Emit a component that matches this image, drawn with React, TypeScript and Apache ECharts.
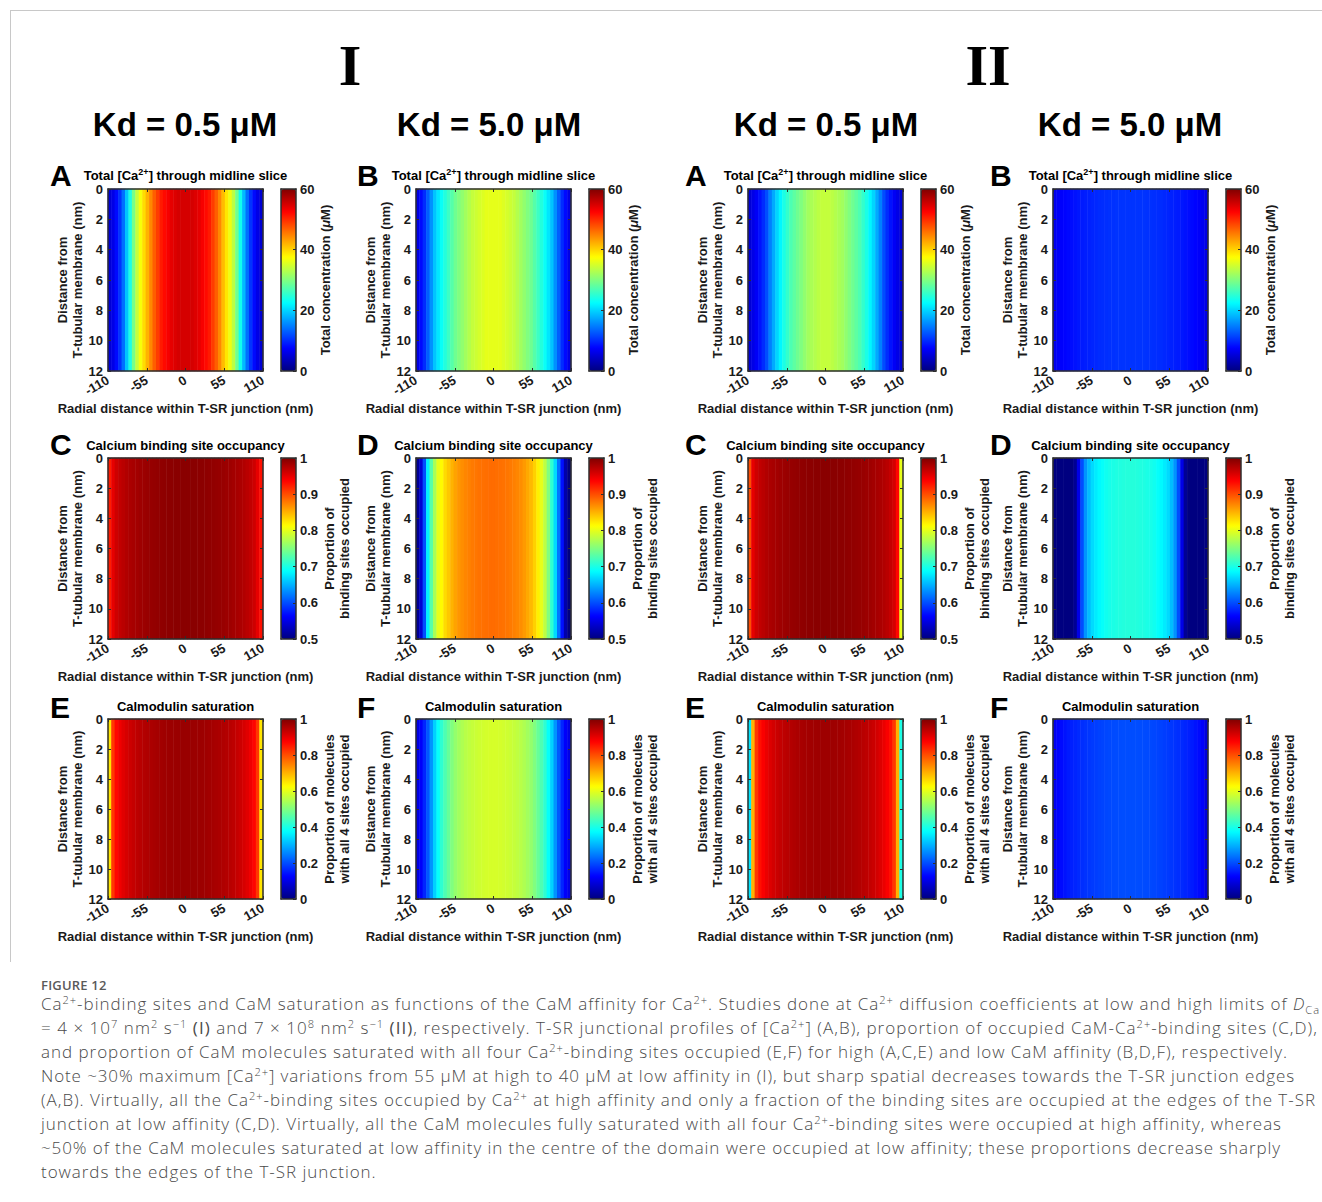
import React, { useEffect, useRef } from "react";
import * as echarts from "echarts";

// ---------- DATA ----------
const radialNm = [-110, -105, -100, -95, -90, -85, -80, -75, -70, -65, -60, -55, -50, -45, -40, -35, -30, -25, -20, -15, -10, -5, 0, 5, 10, 15, 20, 25, 30, 35, 40, 45, 50, 55, 60, 65, 70, 75, 80, 85, 90, 95, 100, 105, 110];
const depthSlice = ["0-12"];

// (I) total [Ca2+] (uM)
const caI_kd05 = [5, 6, 8, 10.5, 14, 19, 24, 29.5, 34, 37, 39.5, 42, 44.5, 47, 49, 51, 52, 53, 54, 54.5, 55, 55, 55, 55, 55, 54.5, 54, 53, 52, 51, 49, 47, 44.5, 41.5, 39, 36.5, 33.5, 29, 23.5, 18.5, 14, 10.5, 8, 6, 5];
const caI_kd50 = [6, 8, 10, 13, 16, 19, 21, 23, 24.5, 26, 27.5, 29, 30, 31, 32, 33, 34, 34.5, 35, 35.5, 36, 36, 36, 36, 36, 35.5, 35, 34.5, 34, 33, 32, 31, 30, 29, 27.5, 26, 24.5, 23, 21, 19, 16, 13, 10, 8, 6];
// (II) total [Ca2+] (uM)
const caII_kd05 = [5, 6, 7, 8.5, 10, 12, 15, 17.5, 20, 22, 24, 25.5, 27, 28, 29, 30, 31, 32, 32.5, 33, 33.5, 34, 34, 34, 33.5, 33, 32.5, 32, 31, 30, 29, 28, 27, 25.5, 24, 22, 20, 17.5, 15, 12, 10, 8.5, 7, 6, 5];
const caII_kd50 = [6.5, 7, 7.3, 7.6, 7.9, 8.2, 8.5, 8.8, 9, 9.2, 9.4, 9.6, 9.8, 10, 10.1, 10.2, 10.3, 10.4, 10.5, 10.5, 10.5, 10.5, 10.5, 10.5, 10.5, 10.5, 10.5, 10.4, 10.3, 10.2, 10.1, 10, 9.8, 9.6, 9.4, 9.2, 9, 8.8, 8.5, 8.2, 7.9, 7.6, 7.2, 6.7, 6];
// binding site occupancy
const occI_kd05 = [0.925, 0.95, 0.962, 0.968, 0.972, 0.976, 0.979, 0.981, 0.983, 0.985, 0.986, 0.988, 0.989, 0.99, 0.991, 0.992, 0.993, 0.994, 0.994, 0.995, 0.995, 0.995, 0.995, 0.995, 0.995, 0.995, 0.994, 0.994, 0.993, 0.992, 0.991, 0.99, 0.989, 0.988, 0.986, 0.985, 0.983, 0.981, 0.979, 0.976, 0.972, 0.968, 0.962, 0.95, 0.93];
const occI_kd50 = [0.51, 0.54, 0.6, 0.68, 0.73, 0.77, 0.8, 0.815, 0.83, 0.84, 0.85, 0.858, 0.864, 0.868, 0.872, 0.875, 0.878, 0.88, 0.882, 0.883, 0.884, 0.885, 0.885, 0.884, 0.883, 0.882, 0.88, 0.878, 0.875, 0.872, 0.868, 0.862, 0.855, 0.847, 0.835, 0.82, 0.8, 0.78, 0.75, 0.71, 0.67, 0.62, 0.57, 0.52, 0.5];
const occII_kd05 = [0.9, 0.95, 0.962, 0.968, 0.972, 0.976, 0.979, 0.981, 0.983, 0.985, 0.986, 0.988, 0.989, 0.99, 0.991, 0.992, 0.993, 0.994, 0.994, 0.995, 0.995, 0.995, 0.995, 0.995, 0.995, 0.995, 0.994, 0.994, 0.993, 0.992, 0.991, 0.99, 0.989, 0.988, 0.986, 0.985, 0.983, 0.981, 0.979, 0.976, 0.972, 0.966, 0.958, 0.935, 0.8];
const occII_kd50 = [0.5, 0.5, 0.5, 0.5, 0.5, 0.5, 0.51, 0.55, 0.6, 0.635, 0.655, 0.67, 0.678, 0.685, 0.69, 0.695, 0.698, 0.7, 0.702, 0.703, 0.704, 0.705, 0.705, 0.705, 0.704, 0.703, 0.702, 0.7, 0.698, 0.695, 0.69, 0.685, 0.678, 0.67, 0.655, 0.635, 0.6, 0.55, 0.51, 0.5, 0.5, 0.5, 0.5, 0.5, 0.5];
// calmodulin saturation
const satI_kd05 = [0.65, 0.82, 0.87, 0.89, 0.905, 0.915, 0.925, 0.932, 0.94, 0.945, 0.95, 0.954, 0.958, 0.961, 0.964, 0.967, 0.969, 0.971, 0.972, 0.973, 0.974, 0.975, 0.975, 0.975, 0.974, 0.973, 0.972, 0.971, 0.969, 0.967, 0.964, 0.961, 0.958, 0.954, 0.95, 0.945, 0.94, 0.932, 0.925, 0.915, 0.905, 0.89, 0.87, 0.82, 0.65];
const satI_kd50 = [0.1, 0.12, 0.16, 0.21, 0.27, 0.33, 0.38, 0.42, 0.45, 0.475, 0.5, 0.52, 0.533, 0.545, 0.555, 0.562, 0.568, 0.573, 0.577, 0.58, 0.583, 0.585, 0.585, 0.585, 0.583, 0.58, 0.577, 0.573, 0.568, 0.562, 0.555, 0.545, 0.533, 0.52, 0.5, 0.475, 0.45, 0.42, 0.38, 0.33, 0.27, 0.21, 0.16, 0.12, 0.1];
const satII_kd05 = [0.35, 0.7, 0.82, 0.86, 0.88, 0.895, 0.908, 0.918, 0.927, 0.934, 0.94, 0.945, 0.95, 0.954, 0.958, 0.961, 0.964, 0.966, 0.968, 0.969, 0.97, 0.97, 0.97, 0.97, 0.97, 0.969, 0.968, 0.966, 0.964, 0.961, 0.958, 0.954, 0.95, 0.945, 0.94, 0.934, 0.927, 0.918, 0.908, 0.895, 0.88, 0.86, 0.82, 0.7, 0.4];
const satII_kd50 = [0.11, 0.125, 0.135, 0.143, 0.15, 0.155, 0.16, 0.165, 0.17, 0.174, 0.178, 0.182, 0.185, 0.188, 0.19, 0.193, 0.195, 0.197, 0.198, 0.199, 0.2, 0.2, 0.2, 0.2, 0.2, 0.199, 0.198, 0.197, 0.195, 0.193, 0.19, 0.188, 0.185, 0.182, 0.178, 0.174, 0.17, 0.165, 0.16, 0.155, 0.15, 0.143, 0.135, 0.12, 0.09];

const groupLabels = ["I", "II"];
const kdLabels = ["Kd = 0.5 μM", "Kd = 5.0 μM", "Kd = 0.5 μM", "Kd = 5.0 μM"];
const panelLetters = [["A", "B", "A", "B"], ["C", "D", "C", "D"], ["E", "F", "E", "F"]];
const xTickStep = 55;
const yTickStep = 2;

const rowKinds = [
  { title: "Total [Ca{s|2+}] through midline slice", min: 0, max: 60, interval: 20, barName: "{b|Total concentration (}{i|μ}{b|M)}", barGap: 18 },
  { title: "Calcium binding site occupancy", min: 0.5, max: 1, interval: 0.1, barName: "Proportion of\nbinding sites occupied", barGap: 20 },
  { title: "Calmodulin saturation", min: 0, max: 1, interval: 0.2, barName: "Proportion of molecules\nwith all 4 sites occupied", barGap: 20 },
];
const profiles = [
  [caI_kd05, caI_kd50, caII_kd05, caII_kd50],
  [occI_kd05, occI_kd50, occII_kd05, occII_kd50],
  [satI_kd05, satI_kd50, satII_kd05, satII_kd50],
];

// ---------- STYLE / LAYOUT ----------
const JET = ["#000080", "#0000ff", "#0080ff", "#00ffff", "#80ff80", "#ffff00", "#ff8000", "#ff0000", "#800000"];
const FONT = '"Liberation Sans", Arial, Helvetica, sans-serif';
const AX = "#2e2e2e";
const colLeft = [108, 416, 748, 1053];
const rowTop = [189, 458, 719];
const rowH = [182, 181, 180];
const plotW = 155;
const barOffset = 18;
const barW = 15;
const letterX = [50, 357, 685, 990];
const letterY = [175, 444, 707];
const titleY = [175, 445, 706];
const titleLH = [16, 12, 12];
const kdX = [185, 489, 826, 1130];
const groupX = [350, 988];

function buildOption() {
  const grid: any[] = [], xAxis: any[] = [], yAxis: any[] = [], series: any[] = [], visualMap: any[] = [], graphic: any[] = [];
  const lineStyle = { color: AX, width: 1.5 };
  const tickStyle = { color: AX, width: 1 };
  const label = { fontFamily: FONT, fontWeight: "bold" as const, fontSize: 13, color: "#1a1a1a" };
  const txt = (text: string, x: number, y: number, font: string, align = "center", extra: any = {}) => ({
    type: "text", x, y, silent: true,
    style: { text, font, fill: "#000", textAlign: align, textVerticalAlign: "middle", align, verticalAlign: "middle", ...extra },
  });

  // frame
  graphic.push({ type: "line", silent: true, shape: { x1: 10, y1: 10.5, x2: 1322, y2: 10.5 }, style: { stroke: "#c8c8c8", lineWidth: 1 } });
  graphic.push({ type: "line", silent: true, shape: { x1: 10.5, y1: 10, x2: 10.5, y2: 962 }, style: { stroke: "#c8c8c8", lineWidth: 1 } });

  groupLabels.forEach((g, i) => graphic.push(txt(g, groupX[i], 65, 'bold 58px "Liberation Serif", "Times New Roman", serif')));
  kdLabels.forEach((k, i) => graphic.push(txt(k, kdX[i], 124, `bold 33px ${FONT}`)));

  for (let r = 0; r < 3; r++) {
    const kind = rowKinds[r];
    for (let c = 0; c < 4; c++) {
      const left = colLeft[c], top = rowTop[r], h = rowH[r];
      const barLeft = left + plotW + barOffset;
      const gi = grid.length;
      grid.push({ left, top, width: plotW, height: h });
      grid.push({ left: barLeft, top, width: barW, height: h });

      const xc = xAxis.length;
      xAxis.push({ gridIndex: gi, type: "category", position: "bottom", data: radialNm.map(String), show: false });
      xAxis.push({
        gridIndex: gi, type: "value", position: "bottom", min: -110, max: 110, interval: xTickStep, z: 10,
        axisLine: { show: true, onZero: false, lineStyle }, axisTick: { show: true, inside: true, length: 3, lineStyle: tickStyle },
        axisLabel: { ...label, rotate: 30, margin: 8, showMinLabel: true, showMaxLabel: true }, splitLine: { show: false },
        name: "Radial distance within T-SR junction (nm)", nameLocation: "middle", nameGap: 31, nameTextStyle: { ...label },
      });
      xAxis.push({
        gridIndex: gi, type: "value", position: "top", min: -110, max: 110, interval: xTickStep, z: 10,
        axisLine: { show: true, onZero: false, lineStyle }, axisTick: { show: true, inside: true, length: 3, lineStyle: tickStyle },
        axisLabel: { show: false }, splitLine: { show: false },
      });
      xAxis.push({ gridIndex: gi + 1, type: "value", position: "bottom", min: 0, max: 1, z: 10, axisLine: { show: true, onZero: false, lineStyle }, axisTick: { show: false }, axisLabel: { show: false }, splitLine: { show: false } });
      xAxis.push({ gridIndex: gi + 1, type: "value", position: "top", min: 0, max: 1, z: 10, axisLine: { show: true, onZero: false, lineStyle }, axisTick: { show: false }, axisLabel: { show: false }, splitLine: { show: false } });

      const yc = yAxis.length;
      yAxis.push({ gridIndex: gi, type: "category", position: "left", data: depthSlice, show: false });
      yAxis.push({
        gridIndex: gi, type: "value", position: "left", min: 0, max: 12, interval: yTickStep, inverse: true, z: 10,
        axisLine: { show: true, onZero: false, lineStyle }, axisTick: { show: true, inside: true, length: 3, lineStyle: tickStyle },
        axisLabel: { ...label, margin: 5, lineHeight: 12 }, splitLine: { show: false },
        name: "Distance from\nT-tubular membrane (nm)", nameLocation: "middle", nameRotate: 90, nameGap: 23,
        nameTextStyle: { ...label, lineHeight: 15 },
      });
      yAxis.push({
        gridIndex: gi, type: "value", position: "right", min: 0, max: 12, interval: yTickStep, inverse: true, z: 10,
        axisLine: { show: true, onZero: false, lineStyle }, axisTick: { show: true, inside: true, length: 3, lineStyle: tickStyle },
        axisLabel: { show: false }, splitLine: { show: false },
      });
      yAxis.push({
        gridIndex: gi + 1, type: "value", position: "right", min: kind.min, max: kind.max, interval: kind.interval, z: 10,
        axisLine: { show: true, onZero: false, lineStyle }, axisTick: { show: true, inside: true, length: 3, lineStyle: tickStyle },
        axisLabel: { ...label, margin: 4, lineHeight: 12 }, splitLine: { show: false },
        name: kind.barName, nameLocation: "middle", nameRotate: 90, nameGap: kind.barGap,
        nameTextStyle: {
          ...label, lineHeight: 15,
          rich: {
            b: { fontFamily: FONT, fontWeight: "bold", fontSize: 13, color: "#1a1a1a" },
            i: { fontFamily: FONT, fontWeight: "bold", fontStyle: "italic", fontSize: 13, color: "#1a1a1a" },
          },
        },
      });
      yAxis.push({ gridIndex: gi + 1, type: "value", position: "left", min: kind.min, max: kind.max, z: 10, axisLine: { show: true, onZero: false, lineStyle }, axisTick: { show: false }, axisLabel: { show: false }, splitLine: { show: false } });

      series.push({
        type: "heatmap", xAxisIndex: xc, yAxisIndex: yc, silent: true, progressive: 0,
        emphasis: { disabled: true },
        data: profiles[r][c].map((v, j) => [j, 0, v]),
      });
      visualMap.push({
        type: "continuous", seriesIndex: series.length - 1, min: kind.min, max: kind.max,
        inRange: { color: JET }, left: barLeft, top, itemWidth: barW, itemHeight: h, padding: 0,
        calculable: false, hoverLink: false, show: true, orient: "vertical", borderWidth: 0,
      });

      graphic.push(txt(panelLetters[r][c], letterX[c], letterY[r], `bold 30px ${FONT}`, "left"));
      graphic.push(txt(kind.title, left + plotW / 2, titleY[r], `bold 13px ${FONT}`, "center", {
        lineHeight: titleLH[r],
        rich: { s: { fontFamily: FONT, fontWeight: "bold", fontSize: 9, verticalAlign: "top", lineHeight: 9 } },
      }));
    }
  }
  return { animation: false, grid, xAxis, yAxis, series, visualMap, graphic };
}

const Sup = ({ children }: any) => <span style={{ fontSize: "0.65em", position: "relative", top: "-0.55em", lineHeight: 0 }}>{children}</span>;
const Sub = ({ children }: any) => <span style={{ fontSize: "0.65em", position: "relative", top: "0.35em", lineHeight: 0 }}>{children}</span>;

const captionTargets = [1279, 1277, 1247, 1254, 1275, 1241, 1240];

export default function App() {
  const ref = useRef<HTMLDivElement>(null);
  const capRef = useRef<HTMLDivElement>(null);
  useEffect(() => {
    document.body.style.margin = "0";
    const chart = echarts.init(ref.current!, undefined, { renderer: "svg" });
    chart.setOption(buildOption() as any);
    if (capRef.current) {
      const spans = Array.from(capRef.current.querySelectorAll("span.capline")) as HTMLSpanElement[];
      let sum = 0, cnt = 0;
      spans.forEach((s, i) => {
        if (i < captionTargets.length) {
          const w = s.getBoundingClientRect().width;
          const n = (s.textContent || "").length;
          const ls = (captionTargets[i] - w) / n;
          s.style.letterSpacing = ls + "px";
          sum += ls; cnt++;
        }
      });
      if (spans.length > captionTargets.length && cnt) spans[spans.length - 1].style.letterSpacing = sum / cnt + "px";
    }
    return () => chart.dispose();
  }, []);

  const line = (content: any, key: number) => (
    <div key={key} style={{ height: 24, lineHeight: "24px", whiteSpace: "nowrap" }}>
      <span className="capline" style={{ display: "inline-block" }}>{content}</span>
    </div>
  );

  return (
    <div style={{ position: "relative", width: 1322, height: 1202, background: "#fff", overflow: "hidden" }}>
      <div ref={ref} style={{ position: "absolute", left: 0, top: 0, width: 1322, height: 968 }} />
      <div ref={capRef} style={{ position: "absolute", left: 41, top: 977, fontFamily: '"Open Sans", "Noto Sans", sans-serif', color: "#4a4a4a" }}>
        <div style={{ fontSize: 13, lineHeight: "16px", height: 15, fontWeight: 600, color: "#5a5a5a", letterSpacing: "0.2px" }}>FIGURE 12</div>
        <div style={{ fontSize: 17, fontWeight: 300 }}>
          {line(<>Ca<Sup>2+</Sup>-binding sites and CaM saturation as functions of the CaM affinity for Ca<Sup>2+</Sup>. Studies done at Ca<Sup>2+</Sup> diffusion coefficients at low and high limits of <i>D</i><Sub>Ca</Sub></>, 0)}
          {line(<>= 4 × 10<Sup>7</Sup> nm<Sup>2</Sup> s<Sup>−1</Sup> <b>(I)</b> and 7 × 10<Sup>8</Sup> nm<Sup>2</Sup> s<Sup>−1</Sup> <b>(II)</b>, respectively. T-SR junctional profiles of [Ca<Sup>2+</Sup>] (A,B), proportion of occupied CaM-Ca<Sup>2+</Sup>-binding sites (C,D),</>, 1)}
          {line(<>and proportion of CaM molecules saturated with all four Ca<Sup>2+</Sup>-binding sites occupied (E,F) for high (A,C,E) and low CaM affinity (B,D,F), respectively.</>, 2)}
          {line(<>Note ~30% maximum [Ca<Sup>2+</Sup>] variations from 55 μM at high to 40 μM at low affinity in (I), but sharp spatial decreases towards the T-SR junction edges</>, 3)}
          {line(<>(A,B). Virtually, all the Ca<Sup>2+</Sup>-binding sites occupied by Ca<Sup>2+</Sup> at high affinity and only a fraction of the binding sites are occupied at the edges of the T-SR</>, 4)}
          {line(<>junction at low affinity (C,D). Virtually, all the CaM molecules fully saturated with all four Ca<Sup>2+</Sup>-binding sites were occupied at high affinity, whereas</>, 5)}
          {line(<>~50% of the CaM molecules saturated at low affinity in the centre of the domain were occupied at low affinity; these proportions decrease sharply</>, 6)}
          {line(<>towards the edges of the T-SR junction.</>, 7)}
        </div>
      </div>
    </div>
  );
}
